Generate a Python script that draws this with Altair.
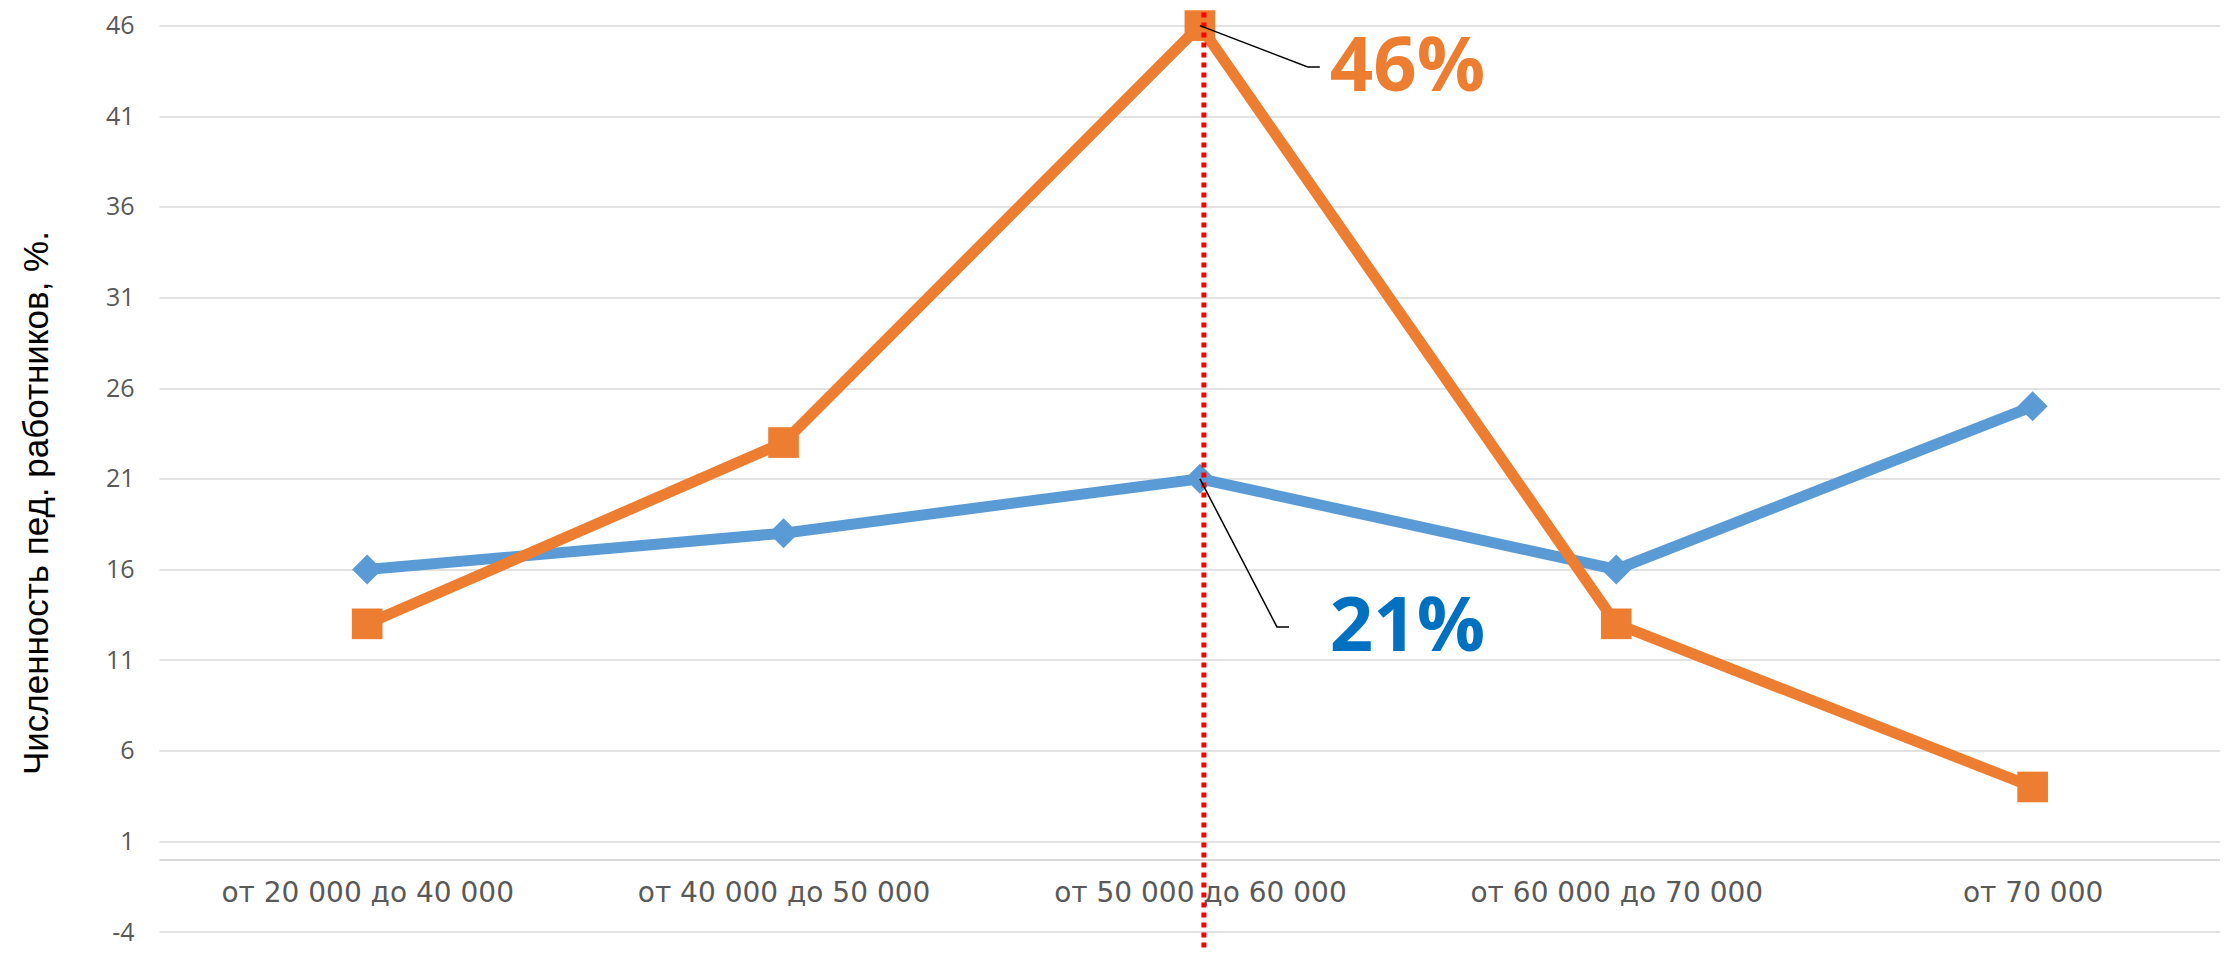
import json
import altair as alt
import pandas as pd

# ---- data ----
categories = ["от 20 000 до 40 000", "от 40 000 до 50 000", "от 50 000 до 60 000",
              "от 60 000 до 70 000", "от 70 000"]
series_blue = [16, 18, 21, 16, 25]
series_orange = [13, 23, 46, 13, 4]
y_ticks = [-4, 1, 6, 11, 16, 21, 26, 31, 36, 41, 46]
y_title = "Численность пед. работников, %."
highlight_index = 2
ann_texts = ["46%", "21%"]
ann_colors = ["#ED7D31", "#0070C0"]

BLUE = "#5B9BD5"
ORANGE = "#ED7D31"
GRID = "#D9D9D9"
LABEL = "#595959"

W = 2061
H = 906.4

idx = list(range(len(categories)))
df_blue = pd.DataFrame({"idx": idx, "value": series_blue})
df_orange = pd.DataFrame({"idx": idx, "value": series_orange})

label_expr = json.dumps(categories, ensure_ascii=False) + "[datum.value]"

x_enc = alt.X(
    "idx:Q",
    scale=alt.Scale(domain=[-0.5, 4.45], nice=False, zero=False),
    axis=alt.Axis(values=idx, labelExpr=label_expr, grid=False, ticks=False,
                  domainColor=GRID, domainWidth=2, offset=-72.5, labelPadding=20,
                  labelFontSize=28, labelFont="DejaVu Sans", labelColor=LABEL,
                  labelLimit=1000, labelOverlap=False, labelFlush=False, title=None),
)
y_enc = alt.Y(
    "value:Q",
    scale=alt.Scale(domain=[-4, 46], nice=False, zero=False),
    axis=alt.Axis(values=y_ticks, labelExpr="toString(datum.value)",
                  grid=True, gridColor=GRID, gridWidth=1.5,
                  domain=False, ticks=False, labelPadding=25, labelFontSize=25,
                  labelFont="Open Sans", labelColor=LABEL,
                  title=y_title, titleFontSize=35, titleFont="Liberation Sans",
                  titleFontWeight="normal", titleColor="#000000",
                  titleX=-123, titleY=477, titleAngle=270, titleAlign="center",
                  titleBaseline="middle"),
)

blue_line = alt.Chart(df_blue).mark_line(color=BLUE, strokeWidth=11).encode(x=x_enc, y=y_enc)
blue_pts = alt.Chart(df_blue).mark_point(shape="diamond", filled=True, size=900,
                                          color=BLUE, opacity=1).encode(x=x_enc, y=y_enc)
orange_line = alt.Chart(df_orange).mark_line(color=ORANGE, strokeWidth=11).encode(x=x_enc, y=y_enc)
orange_pts = alt.Chart(df_orange).mark_point(shape="square", filled=True, size=940,
                                              color=ORANGE, opacity=1).encode(x=x_enc, y=y_enc)

red_rule = alt.Chart(pd.DataFrame({"idx": [highlight_index]})).mark_rule(
    color="#FF0000", strokeWidth=5, strokeDash=[5, 5], xOffset=4, clip=False
).encode(x=x_enc, y=alt.value(-13), y2=alt.value(940))

# leader lines for the labels (annotation geometry)
leader = pd.DataFrame({
    "grp": ["a", "a", "a", "b", "b", "b"],
    "ord": [0, 1, 2, 0, 1, 2],
    "idx": [highlight_index, 2.259, 2.288, highlight_index, 2.185, 2.214],
    "value": [series_orange[highlight_index], 43.72, 43.72,
              series_blue[highlight_index], 12.83, 12.83],
})
leader_lines = alt.Chart(leader).mark_line(color="#000000", strokeWidth=1.5).encode(
    x=x_enc, y=y_enc, detail="grp:N", order="ord:Q")

ann = pd.DataFrame({"idx": [2.312, 2.312], "value": [43.65, 12.78],
                    "txt": ann_texts, "col": ann_colors})
ann_text = alt.Chart(ann).mark_text(align="left", baseline="middle", fontSize=76,
                                    fontWeight="bold", font="Open Sans").encode(
    x=x_enc, y=y_enc, text="txt:N", color=alt.Color("col:N", scale=None))

chart = alt.layer(
    blue_line, blue_pts, orange_line, orange_pts, red_rule, leader_lines, ann_text
).properties(
    width=W, height=H,
    autosize=alt.AutoSizeParams(type="none"),
    padding={"left": 151, "top": 17.6, "right": 0, "bottom": 17},
    background="white",
).configure_view(stroke=None)

chart.save("out.html", embed_options={"renderer": "svg", "actions": False})
